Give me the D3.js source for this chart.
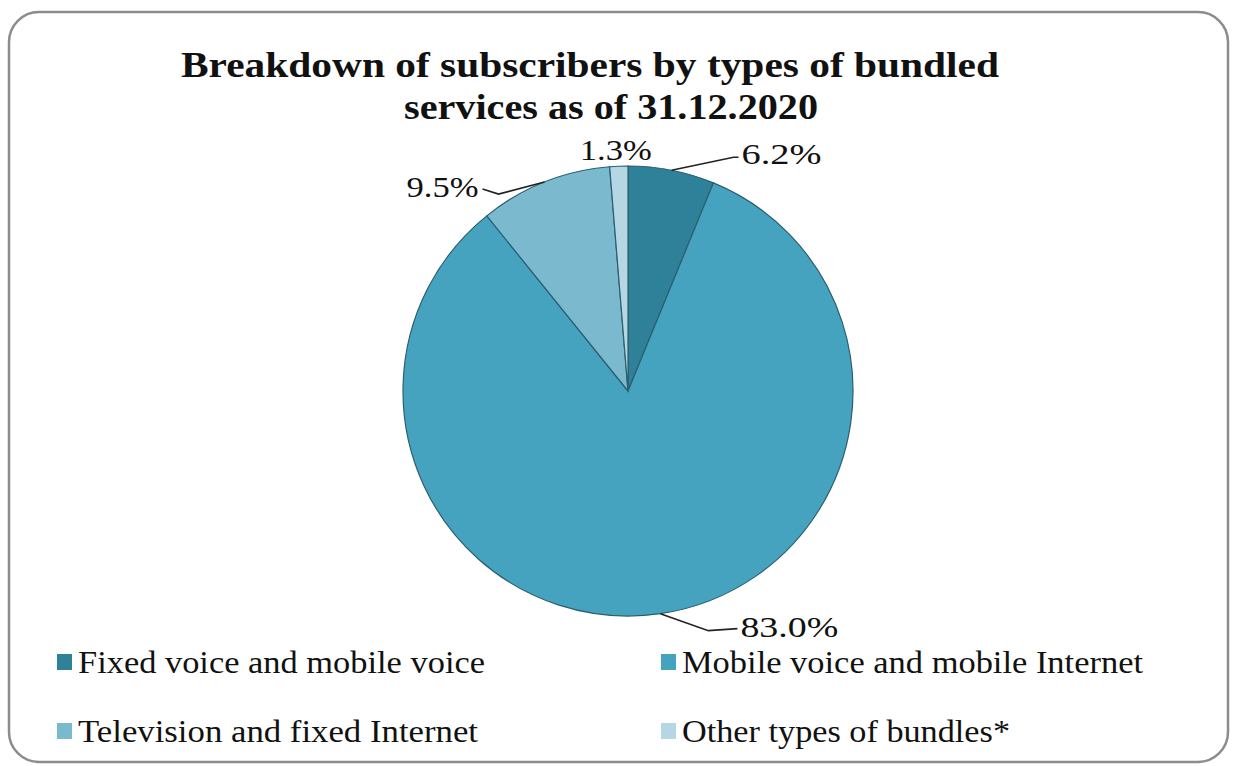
<!DOCTYPE html>
<html>
<head>
<meta charset="utf-8">
<script src="https://cdn.jsdelivr.net/npm/d3@7/dist/d3.min.js"></script>
<style>
  html, body { margin: 0; padding: 0; background: #fff; }
  svg { display: block; }
</style>
</head>
<body>
<svg id="chart" width="1233" height="766"></svg>
<script>
// Subscriber shares by bundle type, 31.12.2020 (percent)
const categories = [
  "Fixed voice and mobile voice",
  "Mobile voice and mobile Internet",
  "Television and fixed Internet",
  "Other types of bundles*"
];
const shares = [6.2, 83.0, 9.5, 1.3];
const colors = ["#2f819a", "#46a3c0", "#7bb9cf", "#b5d6e3"];
const titleLines = ["Breakdown of subscribers by types of bundled", "services as of 31.12.2020"];

const FONT = "'Liberation Serif', 'Times New Roman', Tinos, Times, serif";
const svg = d3.select("#chart");
const W = 1233, H = 766;

// rounded frame
svg.append("rect")
  .attr("x", 9).attr("y", 12)
  .attr("width", 1219).attr("height", 750)
  .attr("rx", 30).attr("ry", 30)
  .attr("fill", "#fff")
  .attr("stroke", "#8c8c8c")
  .attr("stroke-width", 2.5);

// title
const titleX = [590, 611], titleWidths = [818, 414];
svg.append("g").selectAll("text")
  .data(titleLines)
  .join("text")
  .attr("x", (d, i) => titleX[i])
  .attr("y", (d, i) => 77 + i * 42)
  .attr("text-anchor", "middle")
  .style("font-family", FONT)
  .attr("font-size", 35)
  .attr("font-weight", "bold")
  .attr("fill", "#111")
  .attr("textLength", (d, i) => titleWidths[i])
  .attr("lengthAdjust", "spacingAndGlyphs")
  .text(d => d);

// pie
const cx = 628, cy = 391, R = 225;
const pie = d3.pie().sort(null).value(d => d)(shares);
const arc = d3.arc().innerRadius(0).outerRadius(R);

const g = svg.append("g").attr("transform", `translate(${cx},${cy})`);
g.selectAll("path")
  .data(pie)
  .join("path")
  .attr("d", arc)
  .attr("fill", (d, i) => colors[i])
  .attr("stroke", "#2b5f70")
  .attr("stroke-width", 1.2);

// label layout: offset of the label anchor from the slice's outer edge point,
// elbow offset for the leader line, and text anchoring
const fmt = d3.format(".1f");
const layout = [
  { dx: 70, dy: -8, anchor: "start", leader: true, elbow: [62, -13] },
  { dx: 80, dy: 21, anchor: "start", leader: true, elbow: [48, 17] },
  { dx: -66, dy: 13, anchor: "end", leader: true, elbow: [-46, 12] },
  { dx: -3, dy: -8, anchor: "middle", leader: false }
];
const labelWidths = [80, 98, 72, 72];

pie.forEach((d, i) => {
  const a = (d.startAngle + d.endAngle) / 2;
  const ex = Math.sin(a) * R, ey = -Math.cos(a) * R;
  const L = layout[i];
  const tx = ex + L.dx, ty = ey + L.dy;
  if (L.leader) {
    const endX = L.anchor === "start" ? tx - 3 : tx + 4;
    const endY = ty - 6 + (i === 0 ? 1 : 0);
    const pts = [[ex, ey], [ex + L.elbow[0], ey + L.elbow[1]], [endX, endY]];
    g.append("path")
      .attr("d", d3.line().curve(d3.curveLinear)(pts))
      .attr("fill", "none")
      .attr("stroke", "#222")
      .attr("stroke-width", 1.6);
  }
  g.append("text")
    .attr("x", tx).attr("y", ty + 2)
    .attr("text-anchor", L.anchor)
    .style("font-family", FONT)
    .attr("font-size", 30)
    .attr("fill", "#111")
    .attr("textLength", labelWidths[i])
    .attr("lengthAdjust", "spacingAndGlyphs")
    .text(fmt(d.data) + "%");
});

// legend, two columns by two rows
const legendX = [57, 661], legendY = [654, 723];
const legendWidths = [407, 461, 400, 328];
const lg = svg.append("g");
categories.forEach((c, i) => {
  const col = i % 2, row = Math.floor(i / 2);
  lg.append("rect")
    .attr("x", legendX[col]).attr("y", legendY[row])
    .attr("width", 15).attr("height", 16)
    .attr("fill", colors[i]);
  lg.append("text")
    .attr("x", legendX[col] + 21).attr("y", legendY[row] + 19)
    .style("font-family", FONT)
    .attr("font-size", 31)
    .attr("fill", "#111")
    .attr("textLength", legendWidths[i])
    .attr("lengthAdjust", "spacingAndGlyphs")
    .text(c);
});
</script>
</body>
</html>
